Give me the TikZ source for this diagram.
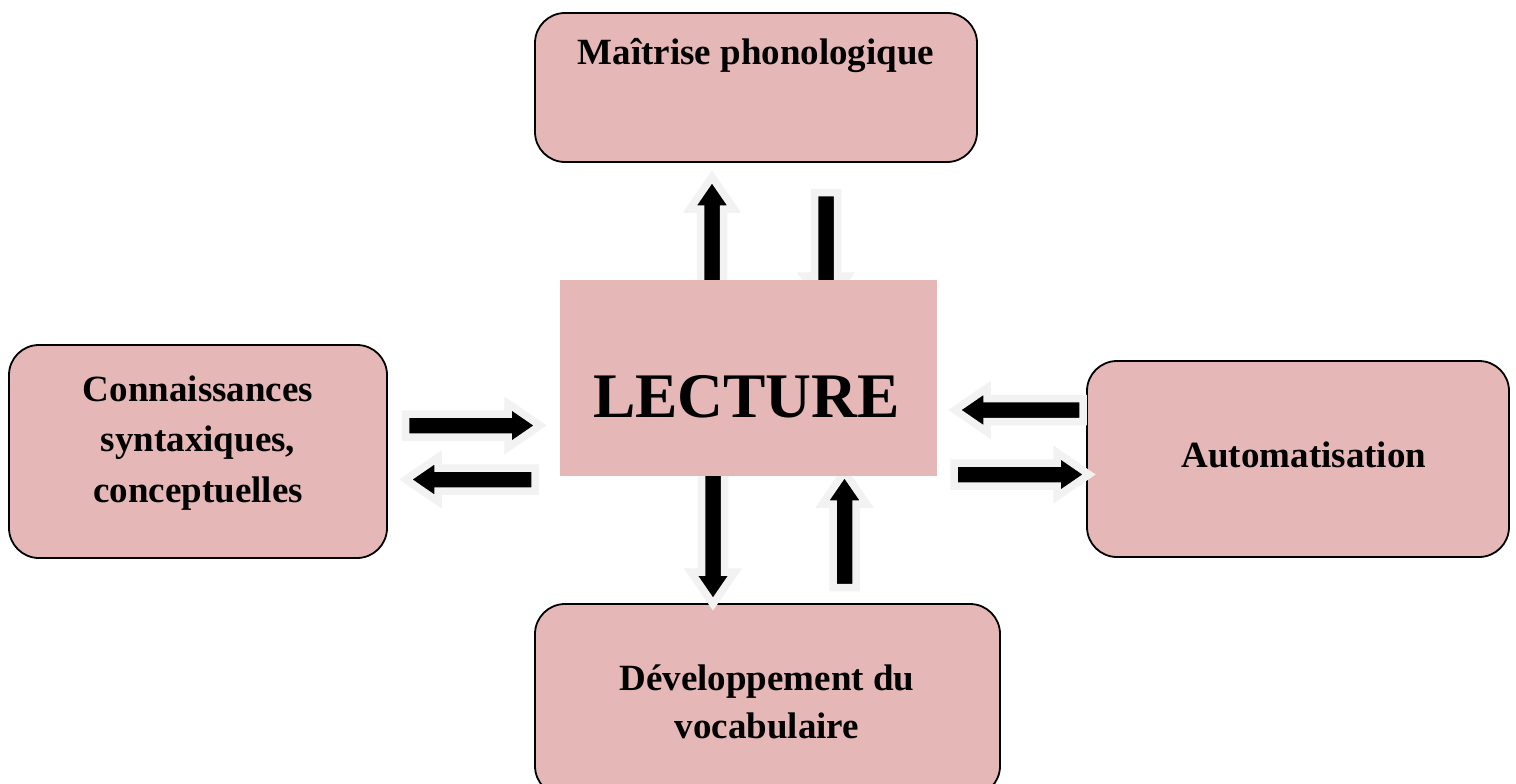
\documentclass[tikz,border=0pt]{standalone}
\usepackage{fontspec}
\setmainfont{Liberation Serif}
\usetikzlibrary{calc}
\definecolor{boxpink}{HTML}{E5B8B7}
\definecolor{arrgray}{HTML}{F2F2F2}
\newcommand\blockarrow[3]{% name, tail, tip
  \coordinate (#1h) at ($(#3)!32pt!(#2)$);
  \draw[blockarr] ($(#2)!11.5pt!90:(#3)$) -- ($(#1h)!11.5pt!90:(#3)$) -- ($(#1h)!22pt!90:(#3)$) -- (#3) -- ($(#1h)!22pt!-90:(#3)$) -- ($(#1h)!11.5pt!-90:(#3)$) -- ($(#2)!11.5pt!-90:(#3)$) -- cycle;
}
\tikzset{
  box/.style={draw=black, line width=1.8pt, fill=boxpink, rounded corners=30pt, inner sep=0pt},
  lectbox/.style={fill=boxpink, inner sep=0pt},
  blockarr/.style={fill=black, draw=arrgray, line width=7.5pt, line join=miter, miter limit=10},
  lbl/.style={inner sep=0pt, font=\fontsize{37}{50.5}\selectfont\bfseries},
  lbltwo/.style={inner sep=0pt, font=\fontsize{37}{48}\selectfont\bfseries},
  biglbl/.style={inner sep=0pt, font=\fontsize{63.5}{70}\selectfont\bfseries}
}
\begin{document}
\begin{tikzpicture}[x=1pt,y=-1pt]
\clip (0,0) rectangle (1516,784);
\fill[white] (0,0) rectangle (1516,784);
% outer boxes
\node[box, minimum width=442, minimum height=149] (phon) at (756,87.5) {};
\node[box, minimum width=378, minimum height=213] (conn) at (198,451.5) {};
\node[box, minimum width=422, minimum height=196] (auto) at (1298,459) {};
\node[box, minimum width=465, minimum height=192] (voc) at (767.5,700) {};
% labels
\node[lbl, anchor=base] (phont) at (756,65) {Maîtrise phonologique};
\node[lbl, anchor=base] (connt) at (198,401) {\begin{tabular}[t]{@{}c@{}}Connaissances\\syntaxiques,\\conceptuelles\end{tabular}};
\node[lbl, anchor=base] (autot) at (1304,467) {Automatisation};
\node[lbltwo, anchor=base] (voct) at (767,690) {\begin{tabular}[t]{@{}c@{}}Développement du\\vocabulaire\end{tabular}};
% arrow end points
\coordinate (a1s) at (712,300);   \coordinate (a1e) at (712,177);
\coordinate (a2s) at (826,192.5); \coordinate (a2e) at (826,308);
\coordinate (a3s) at (405.5,425.5); \coordinate (a3e) at (540,425.5);
\coordinate (a4s) at (535,479.5); \coordinate (a4e) at (406,479.5);
\coordinate (a5s) at (1083,410); \coordinate (a5e) at (955,410);
\coordinate (a6s) at (954,474.5); \coordinate (a6e) at (1089,474.5);
\coordinate (a7s) at (713,460); \coordinate (a7e) at (713,604);
\coordinate (a8s) at (844.5,587.5); \coordinate (a8e) at (844.5,472);
\blockarrow{a1}{a1s}{a1e}
\blockarrow{a2}{a2s}{a2e}
\blockarrow{a3}{a3s}{a3e}
\blockarrow{a4}{a4s}{a4e}
\blockarrow{a5}{a5s}{a5e}
\blockarrow{a6}{a6s}{a6e}
\blockarrow{a7}{a7s}{a7e}
\blockarrow{a8}{a8s}{a8e}
% central box
\node[lectbox, minimum width=377, minimum height=196] (lect) at (748.5,378) {};
\node[biglbl, anchor=base] (lectt) at (746.5,417) {LECTURE};
\end{tikzpicture}
\end{document}
